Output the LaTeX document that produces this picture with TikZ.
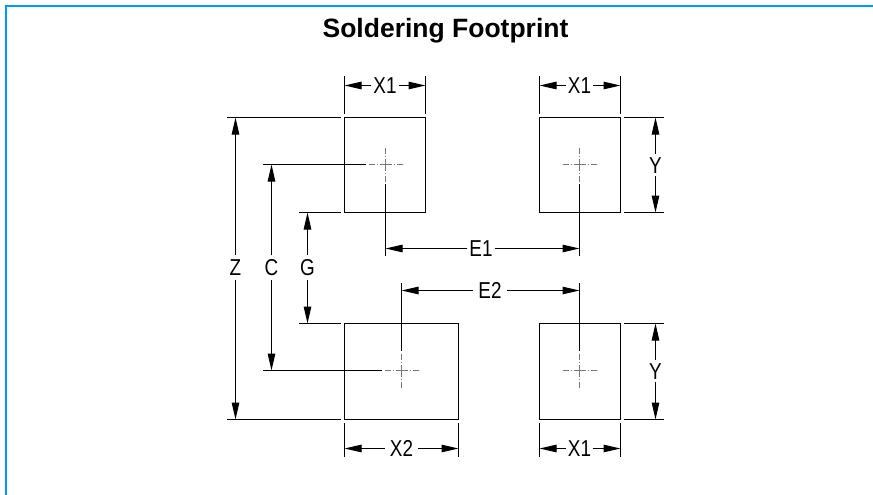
\documentclass[tikz,border=0pt]{standalone}
\usepackage{fontspec}
\setmainfont{Liberation Sans}
\newfontfamily\dimfont[FakeStretch=0.82]{Liberation Sans}
\usetikzlibrary{arrows.meta,calc}
\definecolor{frameBlue}{RGB}{0,153,255}
\definecolor{markGray}{RGB}{120,120,120}
\tikzset{
  padbox/.style={draw, line width=1pt, inner sep=0pt, outer sep=0pt},
  extline/.style={line width=1pt},
  dimline/.style={line width=1pt, -{Triangle[length=17pt,width=7.5pt]}},
  dimlabel/.style={inner xsep=2pt, inner ysep=4pt, text height=16.5pt, text depth=0pt,
    font=\fontsize{23}{23}\dimfont},
  centermark/.style={line width=0.7pt, markGray,
    dash pattern=on 6pt off 2pt on 1pt off 2pt on 12pt off 2pt on 1pt off 2pt on 6pt off 0pt}
}
\begin{document}
\begin{tikzpicture}[x=1pt, y=-1pt]
  \useasboundingbox (0,0) rectangle (873,495);

  % frame and title
  \draw[frameBlue, line width=2pt] (873,6.5) -- (6,6.5) -- (6,495);
  \node[font=\fontsize{26.5}{26.5}\selectfont\bfseries] (title) at (445.5,31) {Soldering Footprint};

  % the four pads
  \node[padbox, minimum width=81pt, minimum height=95pt] (padA) at (385,165) {};
  \node[padbox, minimum width=81pt, minimum height=95pt] (padB) at (580,165) {};
  \node[padbox, minimum width=114pt, minimum height=96pt] (padC) at (401.5,371.5) {};
  \node[padbox, minimum width=81pt, minimum height=96pt] (padD) at (580,371.5) {};

  % center marks
  \coordinate (centerA) at (385.5,164.5);
  \coordinate (centerB) at (579.5,164.5);
  \coordinate (centerC) at (401.5,370.5);
  \coordinate (centerD) at (579.5,370.5);
  \foreach \mid in {centerA,centerB,centerC,centerD} {
    \draw[centermark] ($(\mid)+(-17,0)$) -- ($(\mid)+(17,0)$);
    \draw[centermark] ($(\mid)+(0,-17)$) -- ($(\mid)+(0,17)$);
  }

  % X dimensions
  \node[dimlabel] (topXA) at (385,85.5) {X1};
  \node[dimlabel] (topXB) at (579.5,85.5) {X1};
  \node[dimlabel, inner xsep=5pt] (botXC) at (401.5,448.5) {X2};
  \node[dimlabel] (botXD) at (579.5,448.5) {X1};
  \foreach \lab/\pad in {topXA/padA,topXB/padB} {
    \draw[dimline] (\lab) -- (\lab -| \pad.west);
    \draw[dimline] (\lab) -- (\lab -| \pad.east);
    \draw[extline] ($(\pad.north west)+(0,-3.5)$) -- ($(\pad.north west)+(0,-41)$);
    \draw[extline] ($(\pad.north east)+(0,-3.5)$) -- ($(\pad.north east)+(0,-41)$);
  }
  \foreach \lab/\pad in {botXC/padC,botXD/padD} {
    \draw[dimline] (\lab) -- (\lab -| \pad.west);
    \draw[dimline] (\lab) -- (\lab -| \pad.east);
    \draw[extline] ($(\pad.south west)+(0,3.5)$) -- ($(\pad.south west)+(0,37.5)$);
    \draw[extline] ($(\pad.south east)+(0,3.5)$) -- ($(\pad.south east)+(0,37.5)$);
  }

  % Y dimensions
  \node[dimlabel, inner ysep=2.5pt] (sideYB) at (655.5,165) {Y};
  \node[dimlabel, inner ysep=2.5pt] (sideYD) at (655.5,371) {Y};
  \foreach \lab/\pad in {sideYB/padB,sideYD/padD} {
    \draw[dimline] (\lab) -- (\lab |- \pad.north);
    \draw[dimline] (\lab) -- (\lab |- \pad.south);
    \draw[extline] ($(\pad.north east)+(3.7,0)$) -- ($(\pad.north east)+(43,0)$);
    \draw[extline] ($(\pad.south east)+(3.7,0)$) -- ($(\pad.south east)+(43,0)$);
  }

  % Z, C and G dimensions
  \node[dimlabel] (sideZ) at (235.5,267.5) {Z};
  \node[dimlabel] (sideC) at (271.5,267.5) {C};
  \node[dimlabel] (sideG) at (307.5,267.5) {G};
  \draw[dimline] (sideZ) -- (sideZ |- padA.north);
  \draw[dimline] (sideZ) -- (sideZ |- padC.south);
  \draw[dimline] (sideC) -- (sideC |- centerA);
  \draw[dimline] (sideC) -- (sideC |- centerC);
  \draw[dimline] (sideG) -- (sideG |- padA.south);
  \draw[dimline] (sideG) -- (sideG |- padC.north);
  \draw[extline] ($(padA.north west)+(-3.5,0)$) -- ($(sideZ |- padA.north)+(-8.4,0)$);
  \draw[extline] ($(padC.south west)+(-3.5,0)$) -- ($(sideZ |- padC.south)+(-8.4,0)$);
  \draw[extline] ($(padA.south west)+(-3.5,0)$) -- ($(sideG |- padA.south)+(-8.4,0)$);
  \draw[extline] ($(padC.north west)+(-3.5,0)$) -- ($(sideG |- padC.north)+(-8.4,0)$);
  \draw[extline] ($(centerA)+(-20,0)$) -- ($(sideC |- centerA)+(-8.4,0)$);
  \draw[extline] ($(centerC)+(-20,0)$) -- ($(sideC |- centerC)+(-8.4,0)$);

  % E1 and E2 dimensions
  \node[dimlabel] (midE1) at (481,248.5) {E1};
  \node[dimlabel, inner xsep=5pt] (midE2) at (490,290.5) {E2};
  \draw[dimline] (midE1) -- (midE1 -| centerA);
  \draw[dimline] (midE1) -- (midE1 -| centerB);
  \draw[dimline] (midE2) -- (midE2 -| centerC);
  \draw[dimline] (midE2) -- (midE2 -| centerD);
  \draw[extline] ($(centerA)+(0,19.5)$) -- ($(midE1 -| centerA)+(0,7.7)$);
  \draw[extline] ($(centerB)+(0,19.5)$) -- ($(midE1 -| centerB)+(0,7.7)$);
  \draw[extline] ($(centerC)+(0,-20)$) -- ($(midE2 -| centerC)+(0,-7.7)$);
  \draw[extline] ($(centerD)+(0,-20)$) -- ($(midE2 -| centerD)+(0,-7.7)$);

\end{tikzpicture}
\end{document}
